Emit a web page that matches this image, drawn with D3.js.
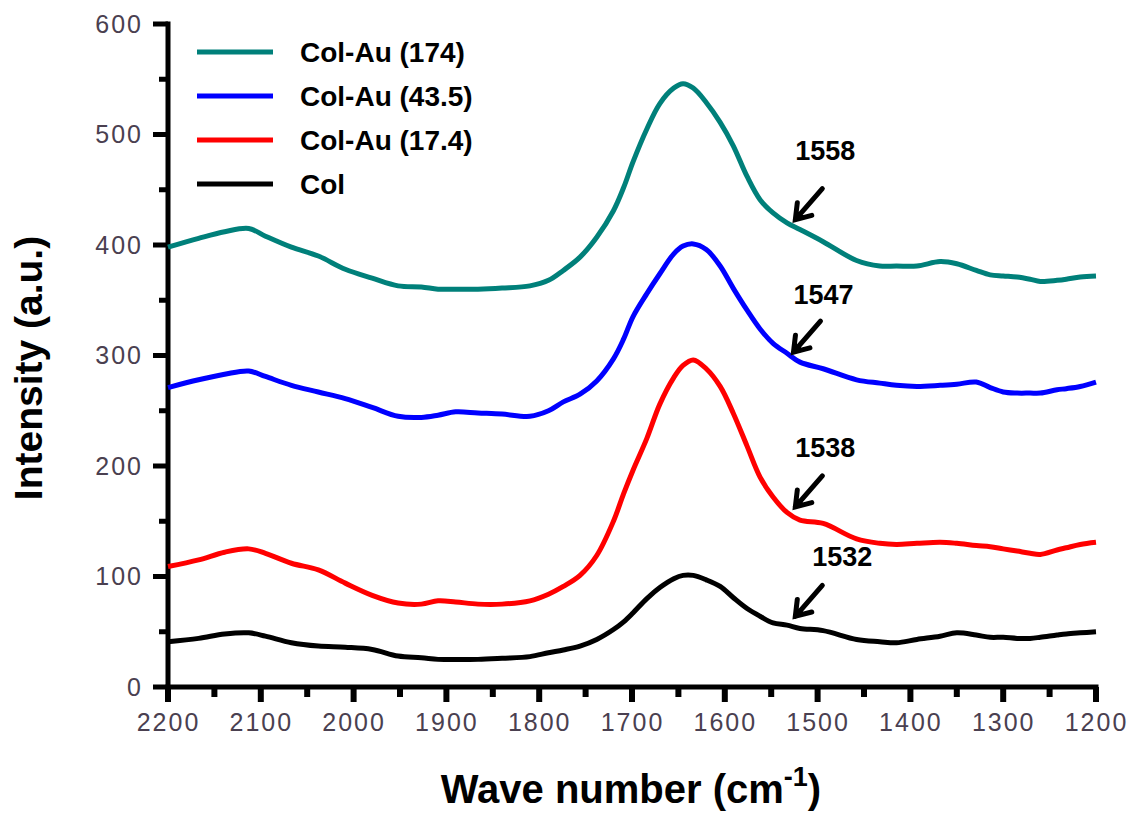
<!DOCTYPE html>
<html>
<head>
<meta charset="utf-8">
<script src="https://cdn.jsdelivr.net/npm/d3@7"></script>
<style>
  body { margin: 0; background: #fff; }
  svg { display: block; font-family: "Liberation Sans", Arial, sans-serif; }
</style>
</head>
<body>
<svg id="chart" width="1130" height="813"></svg>
<script>
// wave numbers (cm-1) shared by every spectrum
var waveNumbers = [2200, 2167, 2139, 2113, 2095, 2067, 2038, 2009, 1980, 1952, 1927, 1909, 1890, 1866,
  1840, 1810, 1790, 1774, 1756, 1738, 1720, 1709, 1699, 1684, 1670, 1655, 1645, 1634, 1620, 1605,
  1591, 1576, 1562, 1548, 1533, 1519, 1494, 1458, 1433, 1415, 1393, 1368, 1350, 1329, 1314, 1300,
  1285, 1271, 1260, 1242, 1232, 1217, 1200];

var colAu174 = [398, 406, 412, 415, 408, 398, 390, 378, 370, 363, 362, 360, 360, 360,
  361, 363, 368, 377, 389, 407, 431, 452, 475, 505, 528, 542, 546, 542, 529, 511,
  490, 462, 441, 429, 420, 414, 403, 386, 381, 381, 381, 385, 383, 377, 373, 372,
  371, 369, 367, 368, 369, 371, 372];

var colAu435 = [271, 278, 283, 286, 281, 273, 267, 261, 253, 245, 244, 246, 249, 248,
  247, 245, 250, 258, 265, 277, 297, 315, 335, 356, 374, 392, 399, 401, 396, 381,
  361, 341, 324, 311, 302, 294, 288, 278, 275, 273, 272, 273, 274, 276, 271, 267,
  266, 266, 266, 269, 270, 272, 276];

var colAu174b = [109, 115, 122, 125, 121, 112, 106, 94, 83, 76, 75, 78, 77, 75,
  75, 78, 84, 91, 101, 119, 150, 175, 196, 225, 256, 280, 291, 296, 288, 272,
  248, 218, 190, 172, 158, 151, 148, 134, 130, 129, 130, 131, 130, 128, 127, 125,
  123, 121, 120, 124, 126, 129, 131];

var colOnly = [41, 44, 48, 49, 46, 40, 37, 36, 34, 28, 26.5, 25, 25, 25,
  26, 27.5, 31, 33.5, 37, 43, 52, 59, 67, 80, 90, 98, 101, 101, 97, 91,
  81, 71, 64, 58, 56, 53, 51, 43, 41, 40, 43, 46, 49, 47, 45, 45,
  44, 44, 45, 47, 48, 49, 50];

var seriesNames = ["Col-Au (174)", "Col-Au (43.5)", "Col-Au (17.4)", "Col"];
var seriesValues = [colAu174, colAu435, colAu174b, colOnly];
var seriesColors = ["#00807a", "#0000ff", "#ff0000", "#000000"];

var xMajorTicks = [2200, 2100, 2000, 1900, 1800, 1700, 1600, 1500, 1400, 1300, 1200];
var yMajorTicks = [0, 100, 200, 300, 400, 500, 600];

// peak annotations: label, wave number and intensity of the arrow tip
var annoLabels = ["1558", "1547", "1538", "1532"];
var annoWave = [1524, 1526, 1524, 1524];
var annoValue = [423, 303, 163, 64];

var svg = d3.select("#chart");

var x = d3.scaleLinear().domain([2200, 1200]).range([168, 1096]);
var y = d3.scaleLinear().domain([0, 600]).range([687, 24]);

var labelColor = "#4a4050";

var xMinor = d3.range(2150, 1200, -100);
var yMinor = d3.range(50, 600, 100);

//axes: labels from d3, tick marks drawn as solid bars
var xAxis = svg.append("g")
   .attr("transform", "translate(0,687)")
   .call(d3.axisBottom(x).tickValues(xMajorTicks).tickSize(15).tickSizeOuter(0).tickPadding(11).tickFormat(d3.format("d")));

var yAxis = svg.append("g")
   .attr("transform", "translate(168,0)")
   .call(d3.axisLeft(y).tickValues(yMajorTicks).tickSize(15).tickSizeOuter(0).tickPadding(10).tickFormat(d3.format("d")));

[xAxis, yAxis].forEach(function(g) {
    g.select(".domain").remove();
    g.selectAll(".tick line").remove();
    g.selectAll(".tick text")
     .attr("fill", labelColor)
     .style("font-size", "25px")
     .style("letter-spacing", "2px")
     .style("font-family", "'Liberation Sans', Arial, sans-serif");
});

function drawRect(svgContainer, x_axis, y_axis, width, height) {
    svgContainer.append("rect")
                .attr("x", x_axis)
                .attr("y", y_axis)
                .attr("width", width)
                .attr("height", height)
                .attr("fill", "#000");
}

var axisW = 5;
xMajorTicks.forEach(function(v) { drawRect(svg, x(v) - 3, y(0), 6, 15); });
xMinor.forEach(function(v) { drawRect(svg, x(v) - 3, y(0), 6, 10); });
yMajorTicks.forEach(function(v) { drawRect(svg, x(2200) - 15, y(v) - 2.5, 15, 5); });
yMinor.forEach(function(v) { drawRect(svg, x(2200) - 9, y(v) - 2.5, 9, 5); });
drawRect(svg, x(2200) - axisW / 2, y(0) - axisW / 2, x(1200) - x(2200) + axisW, axisW);
drawRect(svg, x(2200) - axisW / 2, y(600) - axisW / 2, axisW, y(0) - y(600) + axisW);

//Spectra
var line = d3.line()
    .x(function(d, i) { return x(waveNumbers[i]); })
    .y(function(d) { return y(d); })
    .curve(d3.curveCatmullRom.alpha(0.5));

seriesValues.forEach(function(vals, k) {
    svg.append("path")
       .datum(vals)
       .attr("d", line)
       .attr("fill", "none")
       .style("stroke", seriesColors[k])
       .style("stroke-width", "5px")
       .attr("stroke-linejoin", "round");
});

//Legend
seriesNames.forEach(function(name, k) {
    var ly = 52 + k * 44;
    svg.append("line")
       .attr("x1", 197).attr("x2", 273)
       .attr("y1", ly).attr("y2", ly)
       .style("stroke", seriesColors[k])
       .style("stroke-width", "5px");
    svg.append("text")
       .attr("x", 300)
       .attr("y", ly + 10)
       .style("font-size", "28px")
       .style("font-weight", "bold")
       .text(name);
});

//Annotations with arrows
var annoDx = [0, 0, 0, 17];
var annoDy = [-60, -48, -50, -50];

annoLabels.forEach(function(label, k) {
    var tx = x(annoWave[k]), ty = y(annoValue[k]);
    var sx = tx + 27, sy = ty - 31;
    var ang = Math.atan2(ty - sy, tx - sx);
    var head = 17, spread = 0.6;
    var p1 = [tx - head * Math.cos(ang - spread), ty - head * Math.sin(ang - spread)];
    var p2 = [tx - head * Math.cos(ang + spread), ty - head * Math.sin(ang + spread)];
    svg.append("path")
       .attr("d", "M" + sx + "," + sy + "L" + tx + "," + ty +
                  "M" + p1[0] + "," + p1[1] + "L" + tx + "," + ty + "L" + p2[0] + "," + p2[1])
       .attr("fill", "none")
       .style("stroke", "#000")
       .style("stroke-width", "5px")
       .attr("stroke-linecap", "round")
       .attr("stroke-linejoin", "miter");
    svg.append("text")
       .attr("x", tx + annoDx[k])
       .attr("y", ty + annoDy[k])
       .style("font-size", "27px")
       .style("font-weight", "bold")
       .text(label);
});

//Axis titles
var xt = svg.append("text")
   .attr("x", 631)
   .attr("y", 803)
   .attr("text-anchor", "middle")
   .style("font-size", "40px")
   .style("font-weight", "bold");
xt.append("tspan").text("Wave number (cm");
xt.append("tspan").attr("dy", -17).style("font-size", "27px").text("-1");
xt.append("tspan").attr("dy", 17).text(")");

svg.append("text")
   .attr("transform", "translate(42,368) rotate(-90)")
   .attr("text-anchor", "middle")
   .style("font-size", "39px")
   .style("font-weight", "bold")
   .text("Intensity (a.u.)");
</script>
</body>
</html>
